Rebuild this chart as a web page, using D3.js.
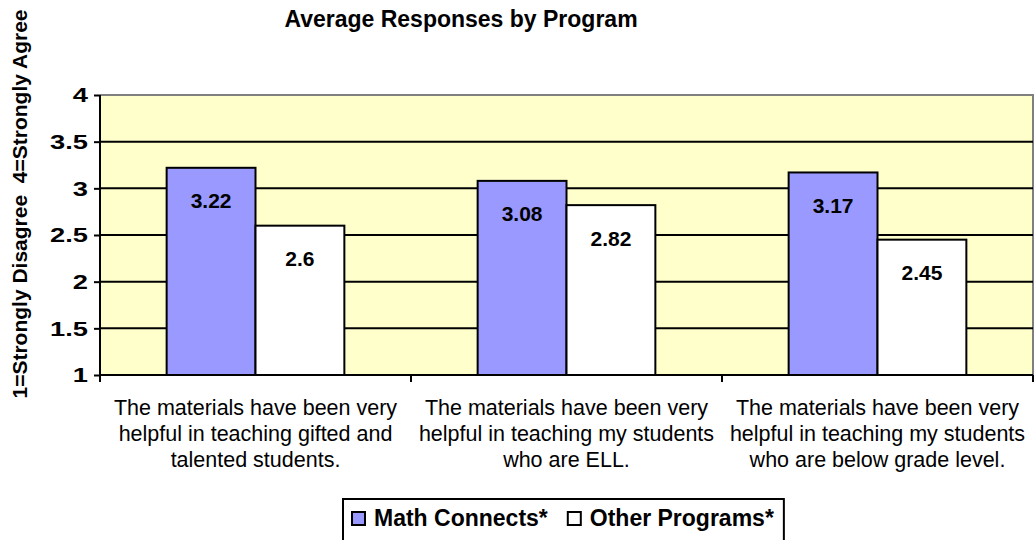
<!DOCTYPE html>
<html><head><meta charset="utf-8">
<script src="https://cdn.jsdelivr.net/npm/d3@7"></script>
<style>
body{margin:0;background:#fff;}
text{font-family:Arial,"Liberation Sans",sans-serif;fill:#000;}
</style></head>
<body><svg id="c" width="1035" height="540"></svg>
<script>
const categories = [
  ["The materials have been very","helpful in teaching gifted and","talented students."],
  ["The materials have been very","helpful in teaching my students","who are ELL."],
  ["The materials have been very","helpful in teaching my students","who are below grade level."]
];
const seriesNames = ["Math Connects*","Other Programs*"];
const mathConnects = [3.22, 3.08, 3.17];
const otherPrograms = [2.6, 2.82, 2.45];
const yTicks = [1, 1.5, 2, 2.5, 3, 3.5, 4];
const seriesColors = ["#9999FF","#FFFFFF"];

const svg = d3.select("#c");
const L=100, R=1033, T=95, B=375;
const y = d3.scaleLinear().domain([1,4]).range([B,T]);
const x0 = d3.scaleBand().domain(d3.range(categories.length)).range([L,R]).padding(0);
const bw = x0.bandwidth();
const barW = bw/3.5;
const x1 = d3.scaleBand().domain([0,1]).range([barW*0.75, bw-barW*0.75]).padding(0);

svg.append("rect").attr("x",L).attr("y",T).attr("width",R-L).attr("height",B-T).attr("fill","#FFFFCC");
svg.append("path").attr("d",`M${L},${T}H${R}V${B}`).attr("fill","none").attr("stroke","#808080").attr("stroke-width",2);
svg.append("g").selectAll("line").data(yTicks.filter(t=>t>1&&t<4)).join("line")
  .attr("x1",L).attr("x2",R).attr("y1",d=>y(d)).attr("y2",d=>y(d))
  .attr("stroke","#000").attr("stroke-width",2);

const data = categories.map((c,i)=>[mathConnects[i], otherPrograms[i]]);
const g = svg.append("g").selectAll("g").data(data).join("g")
  .attr("transform",(d,i)=>`translate(${x0(i)},0)`);
g.selectAll("rect").data(d=>d).join("rect")
  .attr("x",(d,j)=>x1(j)).attr("width",x1.bandwidth())
  .attr("y",d=>y(d)).attr("height",d=>B-y(d))
  .attr("fill",(d,j)=>seriesColors[j]).attr("stroke","#000").attr("stroke-width",2);
g.selectAll("text").data(d=>d).join("text")
  .attr("x",(d,j)=>x1(j)+x1.bandwidth()/2).attr("y",d=>y(d)+33)
  .attr("text-anchor","middle").attr("dominant-baseline","central")
  .attr("font-weight","bold").attr("font-size","21px")
  .text(d=>String(d));

const yAxis = d3.axisLeft(y).tickValues(yTicks).tickSize(6).tickFormat(d=>String(d));
const ya = svg.append("g").attr("transform",`translate(${L},0)`).call(yAxis);
ya.select(".domain").attr("stroke","#000").attr("stroke-width",2).attr("d",`M0,${T}V${B+7}`);
ya.selectAll(".tick line").attr("stroke","#000").attr("stroke-width",2);
ya.selectAll(".tick text").attr("font-family","Arial,'Liberation Sans',sans-serif")
  .attr("font-size","21px").attr("font-weight","bold").attr("fill","#000")
  .attr("x",0).attr("transform","translate(-12,0) scale(1.3,1)");

const xa = svg.append("g").attr("transform",`translate(0,${B})`);
xa.append("line").attr("x1",L).attr("x2",R).attr("stroke","#000").attr("stroke-width",2);
xa.selectAll(".tk").data(d3.range(categories.length)).join("line").attr("class","tk")
  .attr("x1",i=>x0(i)+bw).attr("x2",i=>x0(i)+bw).attr("y1",0).attr("y2",7)
  .attr("stroke","#000").attr("stroke-width",2);
const cl = xa.selectAll(".cl").data(categories).join("text").attr("class","cl")
  .attr("text-anchor","middle").attr("font-size","21.5px");
cl.each(function(lines,i){
  d3.select(this).selectAll("tspan").data(lines).join("tspan")
    .attr("x",x0(i)+bw/2).attr("y",(d,k)=>40+k*25.8).text(d=>d);
});

svg.append("text").attr("x",461).attr("y",27).attr("text-anchor","middle")
  .attr("font-weight","bold").attr("font-size","23px").text("Average Responses by Program");
svg.append("text").attr("transform","translate(27,204) rotate(-90)").attr("text-anchor","middle")
  .attr("font-weight","bold").attr("font-size","21px").attr("xml:space","preserve")
  .text("1=Strongly Disagree  4=Strongly Agree");

// legend
const lg = svg.append("g");
const box = lg.append("rect").attr("x",343).attr("y",499).attr("height",60)
  .attr("fill","#fff").attr("stroke","#000").attr("stroke-width",2);
let cx = 352, endX = 352;
seriesNames.forEach((n,i)=>{
  lg.append("rect").attr("x",cx).attr("y",512).attr("width",13).attr("height",13)
    .attr("fill",seriesColors[i]).attr("stroke","#000").attr("stroke-width",2);
  const t = lg.append("text").attr("x",cx+22).attr("y",526).attr("font-weight","bold")
    .attr("font-size","23px").text(n);
  const w = t.node().getComputedTextLength();
  endX = cx+22+w;
  cx = endX + 20;
});
box.attr("width", endX + 10 - 343);
</script></body></html>
